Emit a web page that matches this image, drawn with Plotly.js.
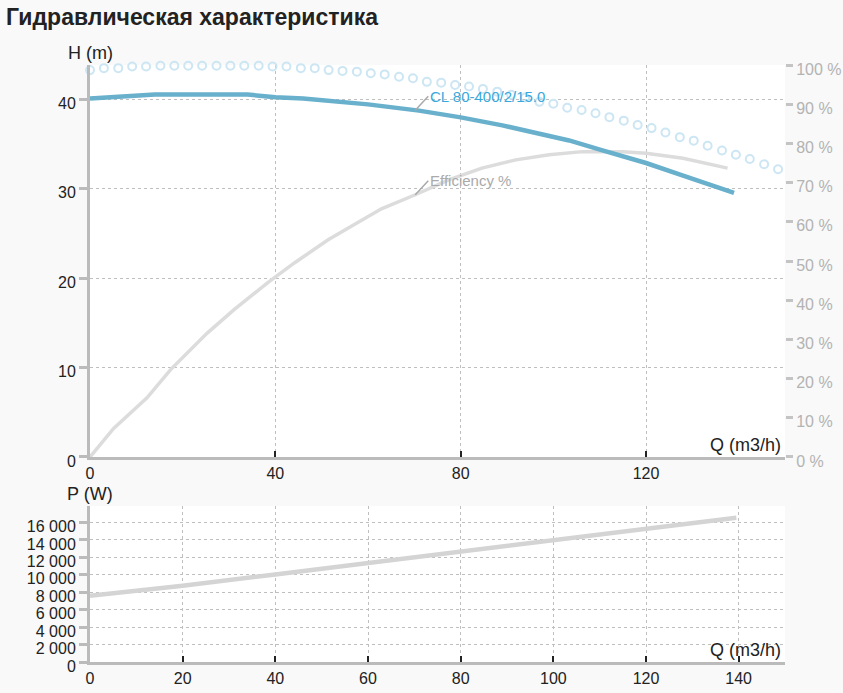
<!DOCTYPE html>
<html>
<head>
<meta charset="utf-8">
<script src="https://cdn.plot.ly/plotly-3.0.1.min.js"></script>
<style>
  body { margin: 0; background: #fff; }
  #chart { width: 843px; height: 693px; }
</style>
</head>
<body>
<div id="chart"></div>
<script>
// ------------------------------------------------------------------
// data
// ------------------------------------------------------------------

// head curve H(Q), m
var head_q = [0, 8, 14, 34, 40, 46, 53, 60, 71, 80, 89, 96.2, 103.4, 110.6, 120, 128, 139];
var head_h = [40.05, 40.3, 40.5, 40.5, 40.2, 40.05, 39.7, 39.4, 38.7, 37.95, 37.05, 36.27, 35.37, 34.26, 32.85, 31.43, 29.5];

// efficiency curve, %
var eff_q = [0, 5.1, 12.3, 17.4, 25.3, 31.1, 38.3, 44.1, 51.4, 62.9, 70.2, 77.4, 84.6, 91.9, 99.1, 106.3, 115, 120, 128, 137.6];
var eff_v = [0, 7.3, 15.1, 22.3, 31.6, 37.6, 44.4, 49.5, 55.4, 63.3, 66.9, 70.7, 73.7, 75.8, 77.1, 77.9, 77.9, 77.5, 76.2, 73.7];

// dotted (open circle) curve, %
var dot_q = [0, 3, 6.1, 9.1, 12.1, 15.2, 18.2, 21.2, 24.2, 27.3, 30.3, 33.3, 36.4, 39.4, 42.4, 45.5, 48.5,
             51.5, 54.5, 57.6, 60.6, 63.6, 66.7, 69.7, 72.7, 75.8, 78.8, 81.8, 84.8, 87.9, 90.9, 93.9,
             97, 100, 103, 106.1, 109.1, 112.1, 115.2, 118.2, 121.2, 124.2, 127.3, 130.3, 133.3, 136.4,
             139.4, 142.4, 145.5, 148.5];
var dot_v = [98.7, 99.2, 99.2, 99.6, 99.6, 99.8, 99.8, 99.8, 99.8, 99.8, 99.8, 99.8, 99.8, 99.6, 99.6, 99.2, 99.2,
             98.7, 98.5, 98.3, 97.9, 97.6, 97.0, 96.6, 95.7, 95.5, 94.9, 94.5, 93.9, 93.2, 92.4, 91.7,
             90.6, 90.1, 89.1, 88.5, 87.7, 86.7, 85.8, 84.7, 83.9, 82.8, 81.6, 80.7, 79.4, 78.2,
             77.1, 76.0, 74.7, 73.4];

// power curve P(Q), W
var pow_q = [0, 20, 40, 60, 80, 100, 120, 139.5];
var pow_p = [7600, 8750, 10050, 11350, 12650, 13950, 15250, 16550];

var curve_name = 'CL 80-400/2/15.0';
var eff_name = 'Efficiency %';

// ------------------------------------------------------------------
// styles
// ------------------------------------------------------------------
var font_family = 'Liberation Sans, Arial, sans-serif';
var axis_gray = '#bbbbbb';
var pct_gray = '#c4c4c4';
var grid_gray = '#bfbfbf';
var text_dark = '#222222';

var q_axis = function(anchor, dtick) {
  return {
    anchor: anchor,
    domain: [0, 1],
    range: [0, 150],
    tick0: 0,
    dtick: dtick,
    showgrid: true,
    gridcolor: grid_gray,
    griddash: 'dot',
    gridwidth: 1,
    zeroline: false,
    showline: true,
    linecolor: axis_gray,
    linewidth: 3,
    ticks: 'inside',
    ticklen: 6,
    tickwidth: 2,
    tickcolor: text_dark,
    tickfont: {size: 16, color: text_dark}
  };
};

// second copy of an axis that only draws the inner half of the ticks
var tick_overlay = function(over, side, range, dtick, color) {
  return {
    overlaying: over,
    side: side,
    anchor: over == 'y5' ? 'x2' : 'x',
    range: range,
    tick0: 0,
    dtick: dtick,
    ticks: 'inside',
    ticklen: 9,
    tickwidth: 3,
    tickcolor: color,
    showticklabels: false,
    showgrid: false,
    showline: false,
    zeroline: false
  };
};

var trace_dots = {
  x: dot_q, y: dot_v, xaxis: 'x', yaxis: 'y',
  type: 'scatter', mode: 'markers', cliponaxis: false,
  marker: {symbol: 'circle-open', size: 8, color: '#cde6f3', line: {width: 2}},
  hoverinfo: 'skip'
};

var trace_eff = {
  x: eff_q, y: eff_v, xaxis: 'x', yaxis: 'y',
  type: 'scatter', mode: 'lines',
  line: {color: '#dcdcdc', width: 3.5},
  hoverinfo: 'skip'
};

var trace_head = {
  x: head_q, y: head_h, xaxis: 'x', yaxis: 'y2',
  type: 'scatter', mode: 'lines',
  line: {color: '#68b0cc', width: 4.5},
  hoverinfo: 'skip'
};

var trace_pow = {
  x: pow_q, y: pow_p, xaxis: 'x2', yaxis: 'y5',
  type: 'scatter', mode: 'lines',
  line: {color: '#d4d4d4', width: 4.5},
  hoverinfo: 'skip'
};

var top_dom = [0.3434, 1];
var bot_dom = [0, 0.2613];

var layout = {
  width: 843,
  height: 693,
  margin: {l: 90, r: 58, t: 65, b: 31},
  paper_bgcolor: '#f9f9f9',
  plot_bgcolor: '#ffffff',
  font: {family: font_family, color: text_dark},
  separators: '. ',
  showlegend: false,
  hovermode: false,
  title: {
    text: '<b>Гидравлическая характеристика</b>',
    font: {size: 23, color: text_dark, family: font_family},
    x: 0.007, xanchor: 'left',
    xref: 'container', yref: 'container',
    y: 0.975, yanchor: 'middle'
  },

  xaxis: q_axis('y', 40),
  xaxis2: q_axis('y5', 20),

  // efficiency scale (right)
  yaxis: {
    domain: top_dom,
    anchor: 'x',
    side: 'right',
    range: [0, 100],
    tick0: 0,
    dtick: 10,
    ticksuffix: ' %',
    ticks: 'outside',
    ticklen: 7,
    tickwidth: 3,
    tickcolor: pct_gray,
    tickfont: {size: 16, color: '#b3b3b3'},
    ticklabelshift: 4,
    showgrid: false,
    showline: false,
    zeroline: false
  },
  // head scale (left)
  yaxis2: {
    overlaying: 'y',
    anchor: 'x',
    side: 'left',
    range: [0, 43.8],
    tick0: 0,
    dtick: 10,
    ticks: 'outside',
    ticklen: 8,
    tickwidth: 3,
    tickcolor: axis_gray,
    tickfont: {size: 16, color: text_dark},
    ticklabelshift: 4,
    showgrid: true,
    gridcolor: grid_gray,
    griddash: 'dot',
    gridwidth: 1,
    showline: true,
    linecolor: axis_gray,
    linewidth: 3,
    zeroline: false
  },
  yaxis3: tick_overlay('y', 'right', [0, 100], 10, pct_gray),
  yaxis4: tick_overlay('y', 'left', [0, 43.8], 10, axis_gray),

  // power scale
  yaxis5: {
    domain: bot_dom,
    anchor: 'x2',
    range: [0, 17900],
    tick0: 0,
    dtick: 2000,
    tickformat: ',.0f',
    ticks: 'outside',
    ticklen: 8,
    tickwidth: 3,
    tickcolor: axis_gray,
    tickfont: {size: 16, color: text_dark},
    ticklabelshift: 4,
    showgrid: true,
    gridcolor: grid_gray,
    griddash: 'dot',
    gridwidth: 1,
    showline: true,
    linecolor: axis_gray,
    linewidth: 3,
    zeroline: false
  },
  yaxis6: tick_overlay('y5', 'left', [0, 17900], 2000, axis_gray),

  annotations: [
    {xref: 'x domain', yref: 'y domain', x: 0, y: 1, xanchor: 'center', yanchor: 'bottom',
     text: 'H (m)', showarrow: false, font: {size: 18, color: text_dark}},
    {xref: 'x domain', yref: 'y domain', x: 1, y: 0, xanchor: 'right', yanchor: 'bottom', xshift: -2,
     text: 'Q (m3/h)', showarrow: false, font: {size: 18, color: text_dark}},
    {xref: 'x2 domain', yref: 'y5 domain', x: 0, y: 1, xanchor: 'center', yanchor: 'bottom',
     text: 'P (W)', showarrow: false, font: {size: 18, color: text_dark}},
    {xref: 'x2 domain', yref: 'y5 domain', x: 1, y: 0, xanchor: 'right', yanchor: 'bottom', xshift: -2,
     text: 'Q (m3/h)', showarrow: false, font: {size: 18, color: text_dark}},
    {xref: 'x', yref: 'y2', x: 70.2, y: 38.75, text: curve_name,
     showarrow: true, arrowhead: 0, arrowwidth: 1.5, arrowcolor: '#aaaaaa',
     ax: 13, ay: -14, xanchor: 'left', yanchor: 'middle',
     font: {size: 15, color: '#3aa8db'}},
    {xref: 'x', yref: 'y', x: 70.2, y: 66.9, text: eff_name,
     showarrow: true, arrowhead: 0, arrowwidth: 1.5, arrowcolor: '#aaaaaa',
     ax: 13, ay: -14, xanchor: 'left', yanchor: 'middle',
     font: {size: 15, color: '#aaaaaa'}}
  ]
};

Plotly.newPlot('chart', [trace_dots, trace_eff, trace_head, trace_pow], layout,
  {displayModeBar: false, staticPlot: true});
</script>
</body>
</html>
